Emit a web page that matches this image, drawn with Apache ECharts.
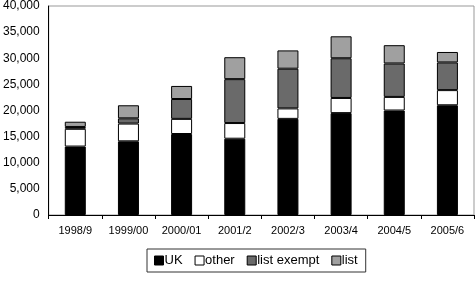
<!DOCTYPE html>
<html>
<head>
<meta charset="utf-8">
<script src="https://cdn.jsdelivr.net/npm/echarts@6/dist/echarts.min.js"></script>
<style>html,body{margin:0;padding:0;background:#fff;}#c{width:476px;height:284px;}</style>
</head>
<body>
<div id="c"></div>
<script>
var categories = ['1998/9','1999/00','2000/01','2001/2','2002/3','2003/4','2004/5','2005/6'];
var ukValues = [13100, 14100, 15500, 14600, 18400, 19500, 20000, 21000];
var otherValues = [3400, 3400, 2900, 3000, 2000, 2900, 2600, 2900];
var listExemptValues = [350, 1000, 3800, 8400, 7600, 7600, 6400, 5300];
var listValues = [1000, 2500, 2500, 4200, 3500, 4200, 3500, 2000];
var yTicks = [0, 5000, 10000, 15000, 20000, 25000, 30000, 35000, 40000];

var chart = echarts.init(document.getElementById('c'), null, {renderer:'canvas'});
var font = 'Liberation Sans, Arial, sans-serif';
function ser(name, data, color) {
  return {
    name: name, type: 'bar', stack: 's', data: data, barWidth: 21,
    itemStyle: {color: color, borderColor: '#000', borderWidth: 1},
    emphasis: {disabled: true}
  };
}
chart.setOption({
  animation: false,
  grid: {left: 46, right: 2, top: 5, bottom: 69, show: true, borderColor: '#999', borderWidth: 1},
  legend: {
    bottom: 12, left: 147,
    icon: 'rect',
    itemWidth: 9, itemHeight: 9, itemGap: 12,
    padding: [5, 8, 5, 7],
    borderColor: '#333', borderWidth: 1,
    textStyle: {fontFamily: font, fontSize: 13, color: '#000', padding: [0, 0, 0, -4]},
    itemStyle: {borderColor: '#000', borderWidth: 1},
    data: ['UK', 'other', 'list exempt', 'list']
  },
  xAxis: {
    type: 'category', data: categories,
    axisLine: {lineStyle: {color: '#000', width: 1}},
    axisTick: {show: true, length: 4, lineStyle: {color: '#000'}},
    axisLabel: {fontFamily: font, fontSize: 11, color: '#000', margin: 10}
  },
  yAxis: {
    type: 'value', min: yTicks[0], max: yTicks[yTicks.length - 1], interval: 5000,
    axisLine: {show: true, lineStyle: {color: '#000'}},
    axisTick: {show: false},
    splitLine: {show: false},
    axisLabel: {fontFamily: font, fontSize: 12, color: '#000', margin: 9,
      formatter: function (v) { return v.toLocaleString('en-US'); }}
  },
  series: [
    ser('UK', ukValues, '#000000'),
    ser('other', otherValues, '#ffffff'),
    ser('list exempt', listExemptValues, '#6a6a6a'),
    ser('list', listValues, '#a0a0a0')
  ]
});
</script>
</body>
</html>
